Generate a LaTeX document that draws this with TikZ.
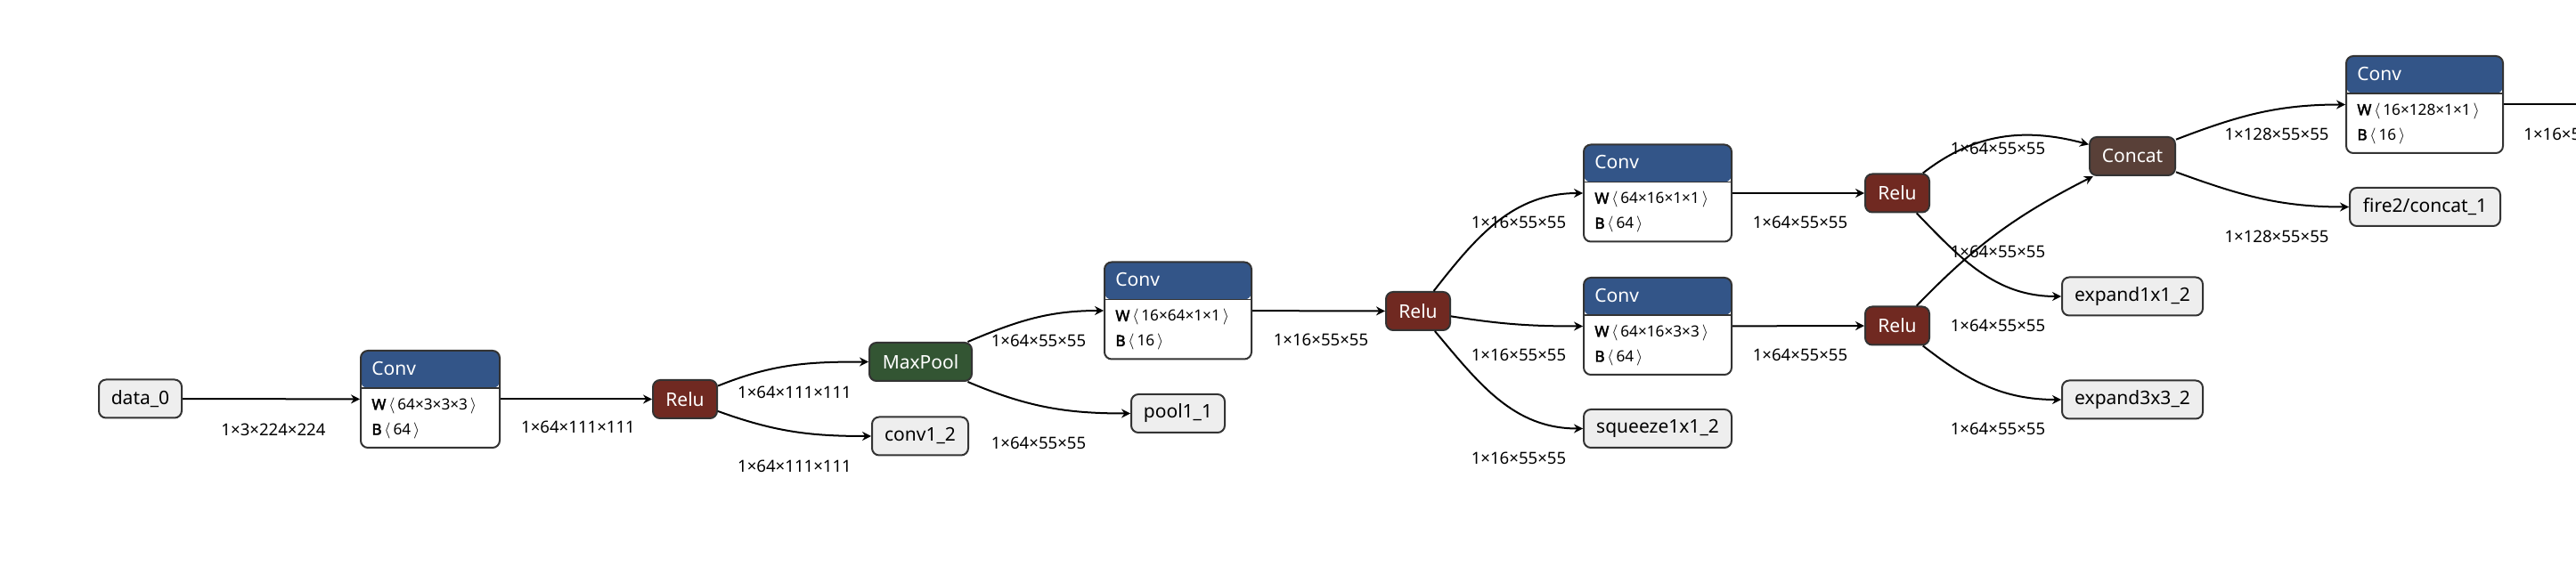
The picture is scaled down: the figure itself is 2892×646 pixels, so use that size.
\documentclass[tikz,border=0pt]{standalone}
\usepackage{fontspec}
\setmainfont{Noto Sans}[AutoFakeBold=2.5]
\usetikzlibrary{arrows.meta}
\definecolor{convblue}{RGB}{51,85,136}
\definecolor{relured}{RGB}{112,41,33}
\definecolor{poolgreen}{RGB}{51,85,51}
\definecolor{catbrown}{RGB}{89,64,56}
\definecolor{iofill}{RGB}{238,238,238}
\definecolor{nodeline}{RGB}{51,51,51}
% header and weight rows of a conv box
\newcommand{\convrows}[3]{%
  \node[hdr] (#1h) at ([xshift=6.5pt,yshift=-10.5pt]#1.north west) {Conv};
  \node[attr] (#1w) at ([xshift=6.5pt,yshift=-31.5pt]#1.north west) {\textbf{W}\,$\langle$\,#2\,$\rangle$};
  \node[attr] (#1b) at ([xshift=6.5pt,yshift=-45.5pt]#1.north west) {\textbf{B}\,$\langle$\,#3\,$\rangle$};
}
\begin{document}
\begin{tikzpicture}[x=0.5pt,y=-0.5pt,
    box/.style={draw=nodeline,line width=1pt,rounded corners=4pt,inner sep=0pt,minimum height=21.5pt,font=\fontsize{10.5}{12}\selectfont},
    io/.style={box,fill=iofill},
    op/.style={box,text=white},
    conv/.style={box,fill=white,minimum height=54.5pt,path picture={
        \fill[convblue] (path picture bounding box.north west) rectangle ([yshift=-21pt]path picture bounding box.north east);
        \draw[nodeline,line width=0.6pt] ([yshift=-21pt]path picture bounding box.north west) -- ([yshift=-21pt]path picture bounding box.north east);}},
    hdr/.style={anchor=west,inner sep=0pt,text=white,font=\fontsize{10.5}{12}\selectfont},
    attr/.style={anchor=west,inner sep=0pt,font=\fontsize{8.6}{10}\selectfont},
    lbl/.style={inner sep=0pt,font=\fontsize{9.3}{11}\selectfont},
    edge/.style={line width=1pt,-{Stealth[length=5pt,width=5pt]}}]
    \useasboundingbox (0,0) rectangle (2892,646);
    % nodes
    \node[io,minimum width=46.5pt] (data) at (157.5,448) {data\_0};
    \node[conv,minimum width=78pt] (conv1) at (483,448.5) {};
    \convrows{conv1}{64×3×3×3}{64}
    \node[op,fill=relured,minimum width=36pt] (relu1) at (769,448.5) {Relu};
    \node[op,fill=poolgreen,minimum width=57.5pt] (pool1) at (1033.5,406.5) {MaxPool};
    \node[io,minimum width=54pt] (conv12) at (1033,490) {conv1\_2};
    \node[io,minimum width=52.5pt] (pool11) at (1322.5,464.5) {pool1\_1};
    \node[conv,minimum width=82.5pt] (conv2) at (1322.5,349) {};
    \convrows{conv2}{16×64×1×1}{16}
    \node[op,fill=relured,minimum width=36pt] (relu2) at (1592,349.5) {Relu};
    \node[conv,minimum width=83pt] (conv3) at (1861,217) {};
    \convrows{conv3}{64×16×1×1}{64}
    \node[conv,minimum width=83pt] (conv4) at (1861,366.5) {};
    \convrows{conv4}{64×16×3×3}{64}
    \node[io,minimum width=83pt] (sq12) at (1861,481.5) {squeeze1x1\_2};
    \node[op,fill=relured,minimum width=36pt] (relu3) at (2130,217) {Relu};
    \node[op,fill=relured,minimum width=36pt] (relu4) at (2130,366) {Relu};
    \node[op,fill=catbrown,minimum width=48pt] (concat) at (2394,175.5) {Concat};
    \node[io,minimum width=79pt] (ex11) at (2394,333) {expand1x1\_2};
    \node[io,minimum width=79pt] (ex33) at (2394,449) {expand3x3\_2};
    \node[conv,minimum width=88pt] (conv5) at (2722,117.5) {};
    \convrows{conv5}{16×128×1×1}{16}
    \node[io,minimum width=84.5pt] (fire2) at (2722.5,232.5) {fire2/concat\_1};
    \coordinate (next) at (2900,117.5);
    % edges
    \draw[edge] (data) -- (conv1);
    \draw[edge] (conv1) -- (relu1);
    \draw[edge] (relu1) to[out=22,in=180] (pool1);
    \draw[edge] (relu1) to[out=-20,in=180] (conv12);
    \draw[edge] (pool1) to[out=23,in=180] (conv2);
    \draw[edge] (pool1) to[out=-23,in=180] (pool11);
    \draw[edge] (conv2) -- (relu2);
    \draw[edge] (relu2) to[out=52,in=180] (conv3);
    \draw[edge] (relu2) to[out=-9,in=180] (conv4);
    \draw[edge] (relu2) to[out=-50,in=180] (sq12);
    \draw[edge] (conv3) -- (relu3);
    \draw[edge] (conv4) -- (relu4);
    \draw[edge] (relu3) to[out=38,in=165] (concat);
    \draw[edge] (relu3) to[out=-46,in=180] (ex11);
    \draw[edge] (relu4) to[out=46,in=207] (concat);
    \draw[edge] (relu4) to[out=-38,in=180] (ex33);
    \draw[edge] (concat) to[out=21,in=180] (conv5);
    \draw[edge] (concat) to[out=-20,in=180] (fire2);
    \draw[line width=1pt] (conv5) -- (next);
    % tensor shapes
    \node[lbl] (l1) at (307,483) {1×3×224×224};
    \node[lbl] (l2) at (649,480) {1×64×111×111};
    \node[lbl] (l3) at (892,441) {1×64×111×111};
    \node[lbl] (l4) at (892,524) {1×64×111×111};
    \node[lbl] (l5) at (1166,383) {1×64×55×55};
    \node[lbl] (l6) at (1166,498) {1×64×55×55};
    \node[lbl] (l7) at (1483,382) {1×16×55×55};
    \node[lbl] (l8) at (1705,250) {1×16×55×55};
    \node[lbl] (l9) at (1705,399) {1×16×55×55};
    \node[lbl] (l10) at (1705,515) {1×16×55×55};
    \node[lbl] (l11) at (2021,250) {1×64×55×55};
    \node[lbl] (l12) at (2021,399) {1×64×55×55};
    \node[lbl] (l13) at (2243,167) {1×64×55×55};
    \node[lbl] (l14) at (2243,283) {1×64×55×55};
    \node[lbl] (l15) at (2243,366) {1×64×55×55};
    \node[lbl] (l16) at (2243,482) {1×64×55×55};
    \node[lbl] (l17) at (2556,151) {1×128×55×55};
    \node[lbl] (l18) at (2556,266) {1×128×55×55};
    \node[lbl,anchor=west] (l19) at (2833,151) {1×16×55×55};
\end{tikzpicture}
\end{document}
